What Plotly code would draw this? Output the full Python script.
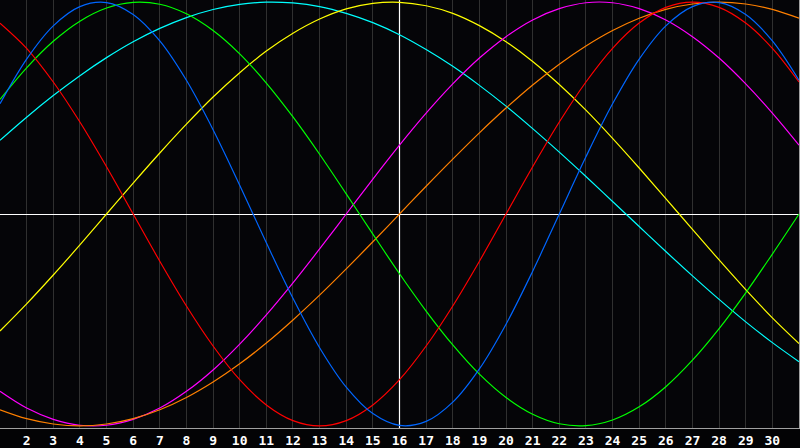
import plotly.graph_objects as go

# days of the month shown on the x axis
days = list(range(1, 32))
tick_days = list(range(2, 31))
tick_labels = [str(d) for d in tick_days]
today = 16
y_range = [-1.01, 1.01]

# cycle values per day (-1 .. 1)
physical = [0.520, 0.731, 0.888, 0.979, 0.998, 0.942, 0.817, 0.631, 0.398, 0.136,
            -0.136, -0.398, -0.631, -0.817, -0.942, -0.998, -0.979, -0.888, -0.731, -0.520,
            -0.270, 0.000, 0.270, 0.520, 0.731, 0.888, 0.979, 0.998, 0.942, 0.817, 0.631]
emotional = [0.901, 0.782, 0.623, 0.434, 0.223, 0.000, -0.223, -0.434, -0.623, -0.782,
             -0.901, -0.975, -1.000, -0.975, -0.901, -0.782, -0.623, -0.434, -0.223, 0.000,
             0.223, 0.434, 0.623, 0.782, 0.901, 0.975, 1.000, 0.975, 0.901, 0.782, 0.623]
intellectual = [0.541, 0.690, 0.815, 0.910, 0.972, 0.999, 0.990, 0.945, 0.866, 0.756,
                0.618, 0.458, 0.282, 0.095, -0.095, -0.282, -0.458, -0.618, -0.756, -0.866,
                -0.945, -0.990, -0.999, -0.972, -0.910, -0.815, -0.690, -0.541, -0.372, -0.189, 0.000]
intuitive = [-0.837, -0.916, -0.969, -0.997, -0.997, -0.969, -0.916, -0.837, -0.736, -0.614,
             -0.476, -0.325, -0.165, 0.000, 0.165, 0.325, 0.476, 0.614, 0.736, 0.837,
             0.916, 0.969, 0.997, 0.997, 0.969, 0.916, 0.837, 0.736, 0.614, 0.476, 0.325]
aesthetic = [-0.552, -0.424, -0.288, -0.146, 0.000, 0.146, 0.288, 0.424, 0.552, 0.667,
             0.769, 0.853, 0.920, 0.968, 0.994, 0.999, 0.983, 0.947, 0.889, 0.813,
             0.720, 0.611, 0.490, 0.357, 0.217, 0.073, -0.073, -0.217, -0.357, -0.490, -0.611]
awareness = [-0.924, -0.966, -0.991, -1.000, -0.991, -0.966, -0.924, -0.866, -0.793, -0.707,
             -0.609, -0.500, -0.383, -0.259, -0.131, 0.000, 0.131, 0.259, 0.383, 0.500,
             0.609, 0.707, 0.793, 0.866, 0.924, 0.966, 0.991, 1.000, 0.991, 0.966, 0.924]
spiritual = [0.348, 0.457, 0.559, 0.653, 0.738, 0.813, 0.876, 0.927, 0.965, 0.989,
             1.000, 0.996, 0.979, 0.947, 0.903, 0.846, 0.776, 0.697, 0.607, 0.509,
             0.403, 0.292, 0.177, 0.059, -0.059, -0.177, -0.292, -0.403, -0.509, -0.607, -0.697]

series = [
    ("Spiritual", spiritual, "#00ffff"),
    ("Aesthetic", aesthetic, "#ffff00"),
    ("Intuitive", intuitive, "#ff00ff"),
    ("Awareness", awareness, "#ff8000"),
    ("Intellectual", intellectual, "#00ff00"),
    ("Emotional", emotional, "#ff0000"),
    ("Physical", physical, "#0066ff"),
]

fig = go.Figure()

# today marker first so the curves sit on top of it
fig.add_trace(go.Scatter(x=[today, today], y=y_range, mode="lines",
                         line=dict(color="#ffffff", width=1.2), hoverinfo="skip"))

for name, vals, col in series:
    fig.add_trace(go.Scatter(x=days, y=vals, name=name, mode="lines",
                             line=dict(color=col, width=1.2, shape="spline"),
                             hoverinfo="skip"))

fig.update_layout(
    width=800, height=448,
    margin=dict(l=0, r=1, t=0, b=20),
    paper_bgcolor="#030305",
    plot_bgcolor="#050508",
    showlegend=False,
    xaxis=dict(range=[1, 31], tickvals=tick_days, ticktext=tick_labels,
               showgrid=True, gridcolor="#303030", gridwidth=1, zeroline=False,
               showline=True, linecolor="#a0a0a0", linewidth=1, mirror=True,
               ticks="", ticklen=0,
               tickfont=dict(family="DejaVu Sans Mono", size=13, color="#ffffff", weight="bold")),
    yaxis=dict(range=y_range, showgrid=False, showticklabels=False,
               zeroline=True, zerolinecolor="#ffffff", zerolinewidth=1.2,
               showline=True, linecolor="#a0a0a0", linewidth=1, mirror=True),
)

# page body has a default margin; drop it so the chart fills the window
fig.write_html("out.html", config={"displayModeBar": False},
               post_script="document.body.style.margin='0';")
